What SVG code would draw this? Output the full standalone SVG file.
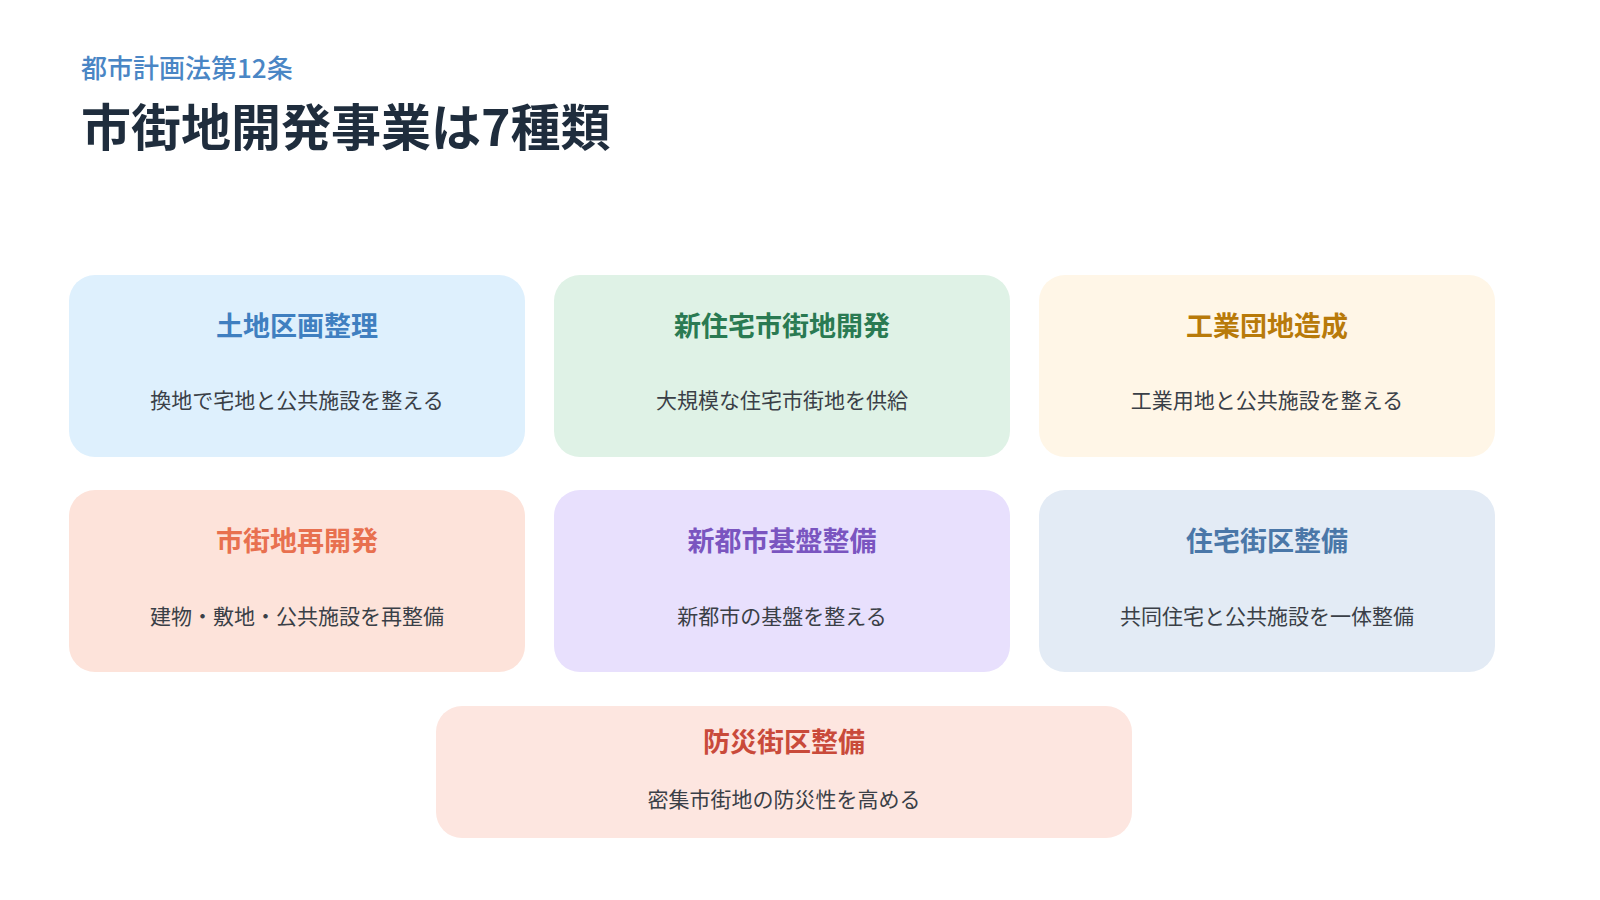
<svg xmlns="http://www.w3.org/2000/svg" width="1600" height="900" viewBox="0 0 1600 900">
<style>
text{font-family:"Noto Sans CJK JP","Noto Sans",sans-serif}
.t{font-size:27px;font-weight:bold;text-anchor:middle}
.d{font-size:21px;fill:#3a3f47;text-anchor:middle}
</style>
<rect width="1600" height="900" fill="#ffffff"/>
<text x="81" y="78" font-size="26" fill="#4A86C5" font-weight="500">都市計画法第12条</text>
<text x="81" y="146" font-size="50" fill="#1F2D3D" font-weight="bold">市街地開発事業は7種類</text>
<g id="n1"><rect x="69" y="275" width="456" height="182" rx="26" fill="#DEF0FD"/><text class="t" x="297" y="336" fill="#3F7FC0">土地区画整理</text><text class="d" x="297" y="408">換地で宅地と公共施設を整える</text></g>
<g id="n2"><rect x="554" y="275" width="456" height="182" rx="26" fill="#DFF2E6"/><text class="t" x="782" y="336" fill="#2A7A52">新住宅市街地開発</text><text class="d" x="782" y="408">大規模な住宅市街地を供給</text></g>
<g id="n3"><rect x="1039" y="275" width="456" height="182" rx="26" fill="#FFF6E7"/><text class="t" x="1267" y="336" fill="#B87A0A">工業団地造成</text><text class="d" x="1267" y="408">工業用地と公共施設を整える</text></g>
<g id="n4"><rect x="69" y="490" width="456" height="182" rx="26" fill="#FDE3DA"/><text class="t" x="297" y="551" fill="#E8704F">市街地再開発</text><text class="d" x="297" y="624">建物・敷地・公共施設を再整備</text></g>
<g id="n5"><rect x="554" y="490" width="456" height="182" rx="26" fill="#E8E0FD"/><text class="t" x="782" y="551" fill="#7A55C0">新都市基盤整備</text><text class="d" x="782" y="624">新都市の基盤を整える</text></g>
<g id="n6"><rect x="1039" y="490" width="456" height="182" rx="26" fill="#E3EBF5"/><text class="t" x="1267" y="551" fill="#4A77A8">住宅街区整備</text><text class="d" x="1267" y="624">共同住宅と公共施設を一体整備</text></g>
<g id="n7"><rect x="436" y="706" width="696" height="132" rx="26" fill="#FDE6E0"/><text class="t" x="784" y="752" fill="#C94A3A">防災街区整備</text><text class="d" x="784" y="807">密集市街地の防災性を高める</text></g>
<g id="connectors"/>
</svg>
